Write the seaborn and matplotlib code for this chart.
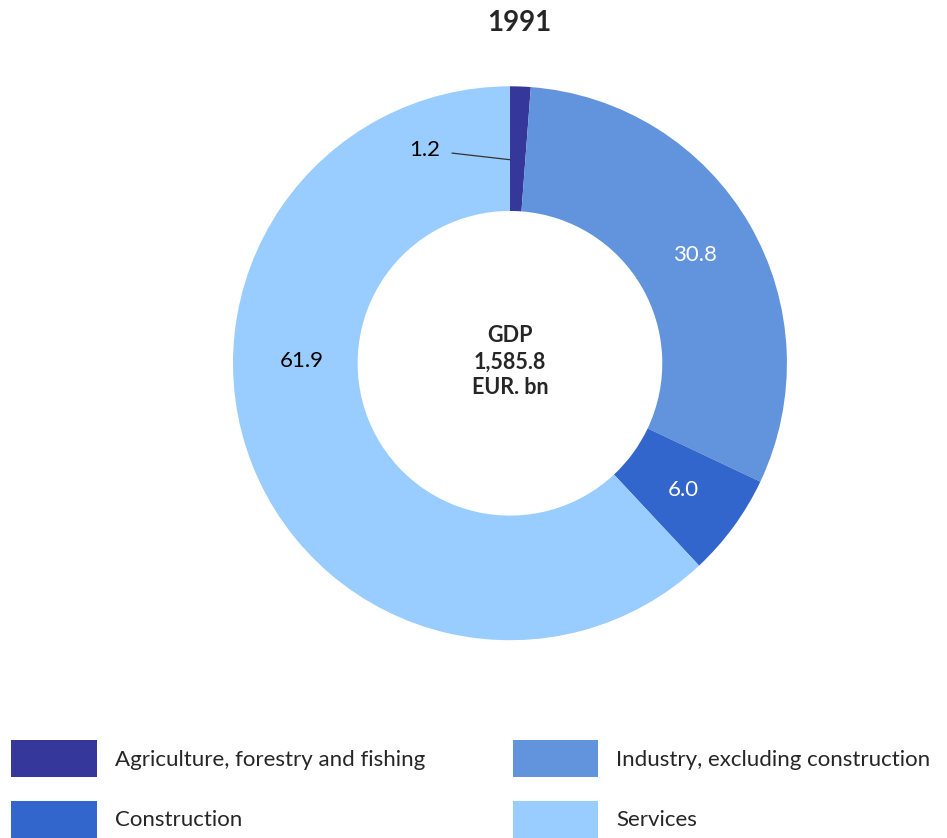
import numpy as np
import matplotlib.pyplot as plt
import seaborn as sns
from matplotlib.patches import Patch

sectors = ['Agriculture, forestry and fishing', 'Industry, excluding construction',
           'Construction', 'Services']
shares = [1.2, 30.8, 6.0, 61.9]
colors = ['#36379A', '#6194DC', '#3366CC', '#99CCFF']
label_colors = ['black', 'white', 'white', 'black']
title = '1991'
center_text = 'GDP\n1,585.8\nEUR. bn'

sns.set_theme(style='white')
plt.rcParams['font.family'] = ['Lato', 'DejaVu Sans']

fig = plt.figure(figsize=(9.47, 8.38), dpi=100)
ax = fig.add_axes([0.246, 0.236, 0.585, 0.661])

wedges, _ = ax.pie(shares, colors=colors, startangle=90, counterclock=False,
                   radius=1, wedgeprops=dict(width=0.45, linewidth=0))
ax.set_xlim(-1, 1)
ax.set_ylim(-1, 1)
ax.set_aspect('equal')
ax.axis('off')

# value labels at the middle of the ring
cum = np.cumsum([0] + shares[:-1])
total = sum(shares)
for i, (w, v) in enumerate(zip(wedges, shares)):
    mid = np.deg2rad(90 - (cum[i] + v / 2) / total * 360)
    r = 0.775
    x, y = r * np.cos(mid), r * np.sin(mid)
    if i == 0:
        ax.annotate(f'{v:.1f}', xy=(0.0, 0.735), xytext=(-0.307, 0.77),
                    ha='center', va='center', fontsize=16, color='black',
                    arrowprops=dict(arrowstyle='-', color='#333333', lw=0.9,
                                    shrinkA=6, shrinkB=0))
        continue
    if i == 3:
        x, y = -0.75, 0.01
    ax.text(x, y, f'{v:.1f}', ha='center', va='center', fontsize=16,
            color=label_colors[i])

ax.text(0, 0.005, center_text, ha='center', va='center', fontsize=15.5,
        fontweight='bold', linespacing=1.3)

fig.text(0.548, 0.973, title, ha='center', va='center', fontsize=20,
         fontweight='bold')

# row-major order like the original legend
order = [0, 2, 1, 3]
handles = [Patch(facecolor=colors[k], edgecolor='none') for k in order]
fig.legend(handles, [sectors[k] for k in order], loc='lower left',
           bbox_to_anchor=(0.012, 0.0), ncol=2, frameon=False, fontsize=16,
           handlelength=3.85, handleheight=2.2, handletextpad=0.8,
           columnspacing=3.95, labelspacing=1.05, borderaxespad=0,
           borderpad=0)

fig.savefig('out.png', dpi=100, facecolor='white')
